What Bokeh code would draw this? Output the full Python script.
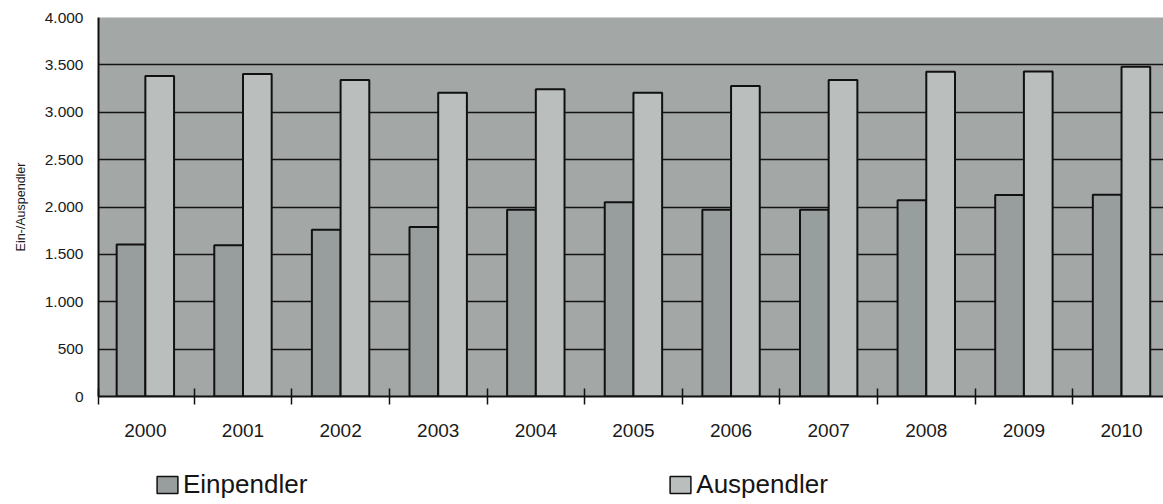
from bokeh.plotting import figure
from bokeh.layouts import column
from bokeh.models import ColumnDataSource, Range1d, FixedTicker, Legend, LegendItem
from bokeh.transform import dodge
from bokeh.embed import file_html
from bokeh.resources import INLINE

years = ["2000", "2001", "2002", "2003", "2004", "2005", "2006", "2007", "2008", "2009", "2010"]
einpendler = [1605, 1595, 1760, 1788, 1971, 2049, 1971, 1971, 2070, 2126, 2128]
auspendler = [3383, 3404, 3340, 3206, 3242, 3206, 3277, 3340, 3428, 3430, 3481]
y_ticks = [0, 500, 1000, 1500, 2000, 2500, 3000, 3500, 4000]
y_tick_labels = ["0", "500", "1.000", "1.500", "2.000", "2.500", "3.000", "3.500", "4.000"]
series_names = ["Einpendler", "Auspendler"]

FONT = "Liberation Sans"
BG = "#a3a7a5"
EIN_COLOR = "#989e9d"
AUS_COLOR = "#babebd"
EDGE = "#111111"

idx = list(range(len(years)))
src = ColumnDataSource(dict(x=idx, ein=einpendler, aus=auspendler))

x_start, x_end = -0.48, 10.43
bw = 0.294

p = figure(
    output_backend="svg", toolbar_location=None,
    frame_width=1065, frame_height=379,
    min_border_left=98, min_border_right=0, min_border_top=17, min_border_bottom=54,
    x_range=Range1d(x_start, x_end), y_range=Range1d(0, 4000),
    background_fill_color=BG, border_fill_color="white",
    outline_line_color=None,
)

p.vbar(x=dodge("x", -bw / 2), top="ein", width=bw, source=src,
       fill_color=EIN_COLOR, line_color=EDGE, line_width=2)
p.vbar(x=dodge("x", bw / 2), top="aus", width=bw, source=src,
       fill_color=AUS_COLOR, line_color=EDGE, line_width=2)

# x axis
xa = p.xaxis[0]
xa.ticker = FixedTicker(ticks=idx, minor_ticks=[x_start] + [i + 0.5 for i in idx])
xa.major_label_overrides = {i: y for i, y in zip(idx, years)}
xa.major_tick_in = 0
xa.major_tick_out = 0
xa.minor_tick_in = 8
xa.minor_tick_out = 8
xa.minor_tick_line_color = EDGE
xa.minor_tick_line_width = 1.5
xa.axis_line_color = EDGE
xa.axis_line_width = 2
xa.major_label_standoff = 19
xa.major_label_text_font = FONT
xa.major_label_text_font_size = "19px"
xa.major_label_text_color = "#1a1a1a"

# y axis
ya = p.yaxis[0]
ya.ticker = FixedTicker(ticks=y_ticks, minor_ticks=[])
ya.major_label_overrides = {t: l for t, l in zip(y_ticks, y_tick_labels)}
ya.major_tick_in = 0
ya.major_tick_out = 0
ya.minor_tick_line_color = None
ya.axis_line_color = EDGE
ya.axis_line_width = 2
ya.major_label_standoff = 15
ya.major_label_text_font = FONT
ya.major_label_text_font_size = "15.5px"
ya.major_label_text_color = "#1a1a1a"
ya.axis_label = "Ein-/Auspendler"
ya.axis_label_text_font = FONT
ya.axis_label_text_font_size = "12.5px"
ya.axis_label_text_font_style = "normal"
ya.axis_label_text_color = "#1a1a1a"
ya.axis_label_standoff = 14

p.xgrid.grid_line_color = None
p.ygrid.grid_line_color = "#151515"
p.ygrid.grid_line_width = 1.5
p.ygrid.ticker = FixedTicker(ticks=y_ticks)

# legend strip below the chart; its renderers only provide the legend swatches
lg = figure(
    output_backend="svg", toolbar_location=None,
    frame_width=1163, frame_height=54,
    min_border=0, x_axis_type=None, y_axis_type=None,
    x_range=Range1d(0, 1), y_range=Range1d(0, 1),
    background_fill_color="white", border_fill_color="white",
    outline_line_color=None,
)
lg.xgrid.grid_line_color = None
lg.ygrid.grid_line_color = None
swatch = ColumnDataSource(dict(x=[float("nan")], top=[float("nan")]))
e1 = lg.vbar(x="x", top="top", width=0.1, source=swatch,
             fill_color=EIN_COLOR, line_color=EDGE, line_width=1.5)
e2 = lg.vbar(x="x", top="top", width=0.1, source=swatch,
             fill_color=AUS_COLOR, line_color=EDGE, line_width=1.5)

legend = Legend(
    items=[LegendItem(label=series_names[0], renderers=[e1]),
           LegendItem(label=series_names[1], renderers=[e2])],
    location=(154, 4), orientation="horizontal",
    border_line_color=None, background_fill_alpha=0,
    padding=0, margin=0, spacing=360,
    glyph_width=26, glyph_height=21, label_standoff=3, label_height=30,
    label_text_font=FONT, label_text_font_size="26px", label_text_color="#151515",
)
lg.add_layout(legend, "center")

layout = column(p, lg, spacing=0)
open("out.html", "w").write(file_html(layout, INLINE))
